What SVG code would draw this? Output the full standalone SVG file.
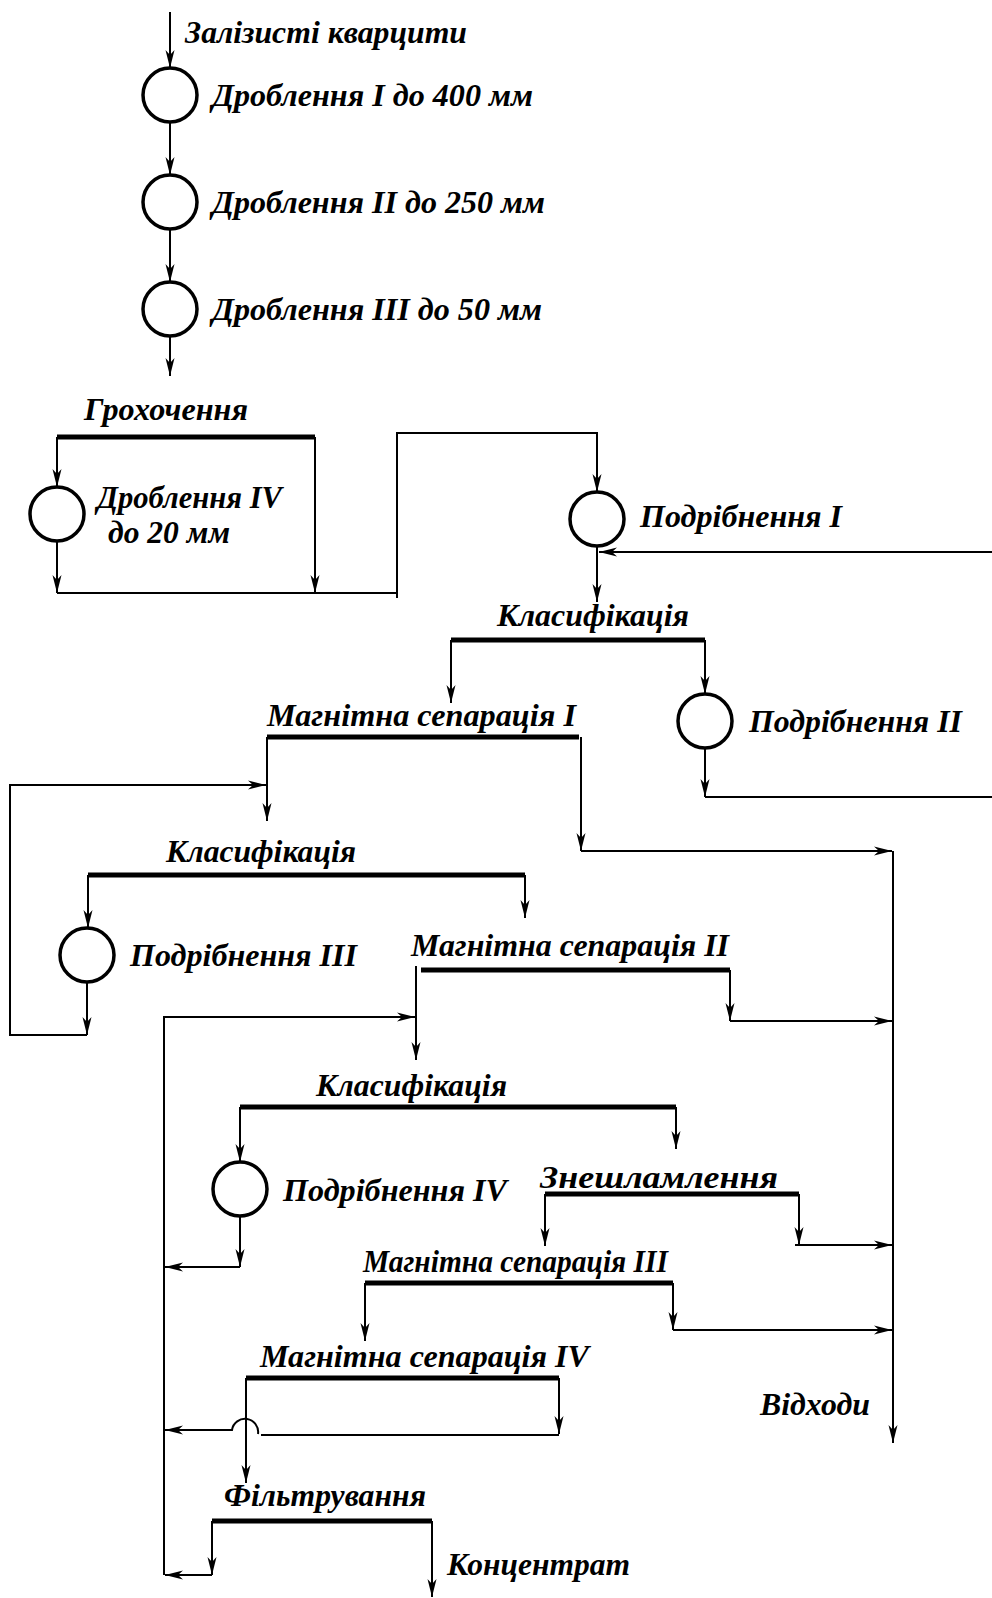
<svg xmlns="http://www.w3.org/2000/svg" width="992" height="1598" viewBox="0 0 992 1598">
<style>
.lbl{font-family:"Liberation Serif","Times New Roman",serif;font-weight:bold;font-style:italic;font-size:32px;fill:#000}
.op{fill:none;stroke:#000;stroke-width:3.5}
.bar{stroke:#000;stroke-width:5;fill:none}
.ln{fill:none;stroke:#000;stroke-width:2}
.ar{fill:none;stroke:#000;stroke-width:2;marker-end:url(#ah)}
</style>
<defs>
<marker id="ah" markerUnits="userSpaceOnUse" markerWidth="22" markerHeight="12" viewBox="-20 -6 21 12" refX="0" refY="0" orient="auto">
<path d="M0,0 L-18,-4.5 L-13,0 L-18,4.5 Z" fill="#000"/>
</marker>
</defs>
<rect width="992" height="1598" fill="#fff"/>
<g id="connectors">
<path class="ar" d="M170,12 L170,68"/>
<path class="ar" d="M170,122 L170,175"/>
<path class="ar" d="M170,229 L170,282"/>
<path class="ar" d="M170,336 L170,376"/>
<path class="ar" d="M57,437 L57,487"/>
<path class="ar" d="M57,541 L57,593"/>
<path class="ar" d="M315,437 L315,593"/>
<path class="ln" d="M57,593 L397,593"/>
<path class="ar" d="M397,598 L397,433 L597,433 L597,492"/>
<path class="ar" d="M992,552 L599,552"/>
<path class="ar" d="M597,546 L597,602"/>
<path class="ar" d="M451,640 L451,703"/>
<path class="ar" d="M705,640 L705,694"/>
<path class="ar" d="M705,748 L705,797"/>
<path class="ln" d="M705,797 L992,797"/>
<path class="ar" d="M267,737 L267,821"/>
<path class="ar" d="M87,982 L87,1035"/>
<path class="ar" d="M87,1035 L10,1035 L10,785 L266,785"/>
<path class="ar" d="M581,737 L581,851"/>
<path class="ar" d="M581,851 L892,851"/>
<path class="ar" d="M893,851 L893,1443"/>
<path class="ar" d="M88,875 L88,928"/>
<path class="ar" d="M525,875 L525,918"/>
<path class="ar" d="M416,966 L416,1060"/>
<path class="ar" d="M164,1575 L164,1017 L415,1017"/>
<path class="ar" d="M730,970 L730,1021"/>
<path class="ar" d="M730,1021 L892,1021"/>
<path class="ar" d="M240,1107 L240,1162"/>
<path class="ar" d="M240,1216 L240,1267"/>
<path class="ar" d="M240,1267 L165,1267"/>
<path class="ar" d="M676,1107 L676,1149"/>
<path class="ar" d="M545,1194 L545,1246"/>
<path class="ar" d="M799,1194 L799,1245"/>
<path class="ar" d="M795,1245 L892,1245"/>
<path class="ar" d="M365,1283 L365,1341"/>
<path class="ar" d="M673,1283 L673,1330"/>
<path class="ar" d="M673,1330 L892,1330"/>
<path class="ar" d="M246,1378 L246,1483"/>
<path class="ar" d="M559,1378 L559,1434"/>
<path class="ln" d="M559,1435 L261,1435"/>
<path class="ar" d="M258,1434 A13,13 0 0 0 232,1430 L165,1430"/>
<path class="ar" d="M212,1521 L212,1575"/>
<path class="ar" d="M212,1575 L165,1575"/>
<path class="ar" d="M432,1521 L432,1597"/>
</g>
<g id="n_feed"><text class="lbl" x="185" y="43" textLength="282" lengthAdjust="spacingAndGlyphs">Залізисті кварцити</text></g>
<g id="n_crush1"><circle class="op" cx="170" cy="95" r="27"/><text class="lbl" x="212" y="106" textLength="321" lengthAdjust="spacingAndGlyphs">Дроблення I до 400 мм</text></g>
<g id="n_crush2"><circle class="op" cx="170" cy="202" r="27"/><text class="lbl" x="212" y="213" textLength="333" lengthAdjust="spacingAndGlyphs">Дроблення II до 250 мм</text></g>
<g id="n_crush3"><circle class="op" cx="170" cy="309" r="27"/><text class="lbl" x="212" y="320" textLength="330" lengthAdjust="spacingAndGlyphs">Дроблення III до 50 мм</text></g>
<g id="n_screen"><line class="bar" x1="57" y1="437" x2="315" y2="437"/><text class="lbl" x="84" y="420" textLength="164" lengthAdjust="spacingAndGlyphs">Грохочення</text></g>
<g id="n_crush4"><circle class="op" cx="57" cy="514" r="27"/><text class="lbl" x="97" y="508" textLength="185" lengthAdjust="spacingAndGlyphs">Дроблення IV</text><text class="lbl" x="108" y="543" textLength="122" lengthAdjust="spacingAndGlyphs">до 20 мм</text></g>
<g id="n_grind1"><circle class="op" cx="597" cy="519" r="27"/><text class="lbl" x="640" y="527" textLength="202" lengthAdjust="spacingAndGlyphs">Подрібнення I</text></g>
<g id="n_class1"><line class="bar" x1="451" y1="640" x2="705" y2="640"/><text class="lbl" x="497" y="626" textLength="192" lengthAdjust="spacingAndGlyphs">Класифікація</text></g>
<g id="n_grind2"><circle class="op" cx="705" cy="721" r="27"/><text class="lbl" x="749" y="732" textLength="213" lengthAdjust="spacingAndGlyphs">Подрібнення II</text></g>
<g id="n_ms1"><line class="bar" x1="267" y1="737" x2="579" y2="737"/><text class="lbl" x="267" y="726" textLength="309" lengthAdjust="spacingAndGlyphs">Магнітна сепарація I</text></g>
<g id="n_class2"><line class="bar" x1="88" y1="875" x2="525" y2="875"/><text class="lbl" x="166" y="862" textLength="190" lengthAdjust="spacingAndGlyphs">Класифікація</text></g>
<g id="n_grind3"><circle class="op" cx="87" cy="955" r="27"/><text class="lbl" x="130" y="966" textLength="227" lengthAdjust="spacingAndGlyphs">Подрібнення III</text></g>
<g id="n_ms2"><line class="bar" x1="421" y1="970" x2="730" y2="970"/><text class="lbl" x="411" y="956" textLength="318" lengthAdjust="spacingAndGlyphs">Магнітна сепарація II</text></g>
<g id="n_class3"><line class="bar" x1="240" y1="1107" x2="676" y2="1107"/><text class="lbl" x="316" y="1096" textLength="191" lengthAdjust="spacingAndGlyphs">Класифікація</text></g>
<g id="n_grind4"><circle class="op" cx="240" cy="1189" r="27"/><text class="lbl" x="283" y="1201" textLength="224" lengthAdjust="spacingAndGlyphs">Подрібнення IV</text></g>
<g id="n_desl"><line class="bar" x1="545" y1="1194" x2="799" y2="1194"/><text class="lbl" x="540" y="1188" textLength="238" lengthAdjust="spacingAndGlyphs">Знешламлення</text></g>
<g id="n_ms3"><line class="bar" x1="365" y1="1283" x2="673" y2="1283"/><text class="lbl" x="363" y="1272" textLength="305" lengthAdjust="spacingAndGlyphs">Магнітна сепарація III</text></g>
<g id="n_ms4"><line class="bar" x1="246" y1="1378" x2="559" y2="1378"/><text class="lbl" x="260" y="1367" textLength="329" lengthAdjust="spacingAndGlyphs">Магнітна сепарація IV</text></g>
<g id="n_waste"><text class="lbl" x="760" y="1415" textLength="110" lengthAdjust="spacingAndGlyphs">Відходи</text></g>
<g id="n_filter"><line class="bar" x1="212" y1="1521" x2="432" y2="1521"/><text class="lbl" x="224" y="1506" textLength="202" lengthAdjust="spacingAndGlyphs">Фільтрування</text></g>
<g id="n_conc"><text class="lbl" x="447" y="1575" textLength="183" lengthAdjust="spacingAndGlyphs">Концентрат</text></g>
</svg>
